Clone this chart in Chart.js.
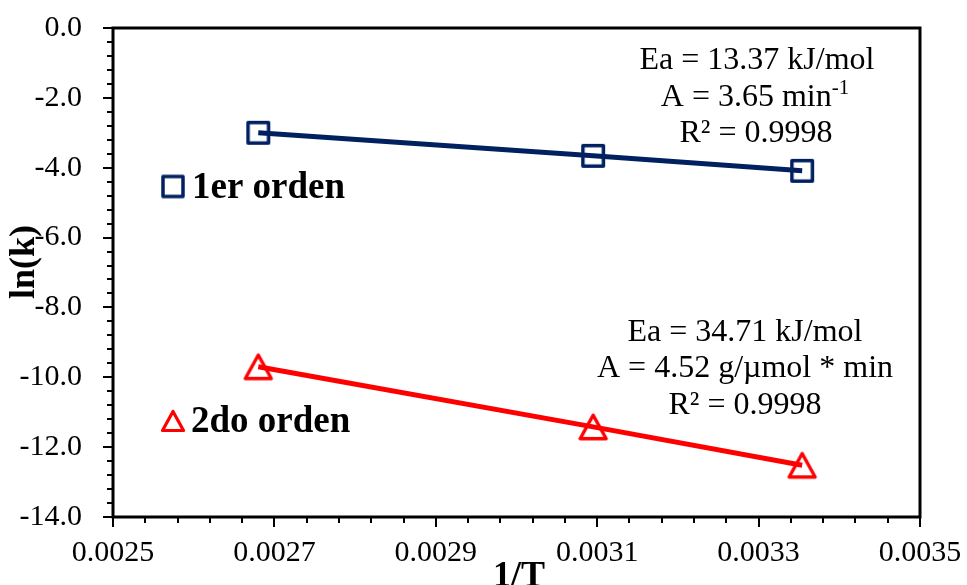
<!DOCTYPE html>
<html>
<head>
<meta charset="utf-8">
<script src="https://cdn.jsdelivr.net/npm/chart.js@4/dist/chart.umd.min.js"></script>
<style>
  html, body { margin: 0; padding: 0; background: #ffffff; }
  #wrap { width: 967px; height: 585px; }
</style>
</head>
<body>
<div id="wrap"><canvas id="c" width="967" height="585"></canvas></div>
<script>
// Arrhenius plot: ln(k) against 1/T for first and second order kinetics
const invT = [0.00268, 0.003095, 0.003354];
const lnKFirst = [-3.00, -3.66, -4.09];
const lnKSecond = [-9.70, -11.42, -12.52];
const seriesNames = ['1er orden', '2do orden'];
const fitFirst = ['Ea = 13.37 kJ/mol', 'A = 3.65 min', 'R\u00B2 = 0.9998'];
const fitSecond = ['Ea = 34.71 kJ/mol', 'A = 4.52 g/\u00B5mol * min', 'R\u00B2 = 0.9998'];
const xTicks = [0.0025, 0.0027, 0.0029, 0.0031, 0.0033, 0.0035];
const yTicks = [0, -2, -4, -6, -8, -10, -12, -14];

const NAVY = '#002060';
const RED = '#ff0000';
const SERIF = '"Liberation Serif", "Times New Roman", serif';

// Outline-only markers, centred on their bounding box
function makeMarker(kind, color, lw, pts) {
  const c = document.createElement('canvas');
  c.width = 32; c.height = 32;
  const g = c.getContext('2d');
  g.strokeStyle = color;
  g.lineWidth = lw;
  g.lineJoin = 'round';
  g.beginPath();
  if (kind === 'square') {
    g.rect(pts[0], pts[0], pts[1], pts[1]);
  } else {
    g.moveTo(pts[0][0], pts[0][1]);
    g.lineTo(pts[1][0], pts[1][1]);
    g.lineTo(pts[2][0], pts[2][1]);
    g.closePath();
  }
  g.stroke();
  return c;
}
const squareMark = makeMarker('square', NAVY, 3.5, [5.75, 20.5]);
const triangleMark = makeMarker('triangle', RED, 3.4, [[16, 4.25], [29, 27.75], [3, 27.75]]);
const squareLegend = makeMarker('square', NAVY, 3.5, [6, 20]);
const triangleLegend = makeMarker('triangle', RED, 3.2, [[16, 6.5], [26.5, 25.5], [5.5, 25.5]]);

// major ticks every `step`, counted from `origin`
const isMajor = (v, step, origin) => {
  const r = (v - origin) / step;
  return Math.abs(r - Math.round(r)) < 1e-6;
};
const xMajor = v => isMajor(v, 0.0002, xTicks[0]);
const yMajor = v => isMajor(v, 2, 0);

// Frame, outward tick marks, axis titles, in-plot legend and fit notes
const decorations = {
  id: 'decorations',
  afterDraw(chart) {
    const { ctx, chartArea: a, scales } = chart;
    ctx.save();
    ctx.strokeStyle = '#000';
    ctx.lineWidth = 3;
    ctx.strokeRect(a.left, a.top, a.right - a.left, a.bottom - a.top);

    ctx.lineWidth = 2;
    ctx.beginPath();
    scales.y.ticks.forEach(t => {
      const py = Math.round(scales.y.getPixelForValue(t.value));
      const len = yMajor(t.value) ? 10 : 6;
      ctx.moveTo(a.left, py);
      ctx.lineTo(a.left - len, py);
    });
    scales.x.ticks.forEach(t => {
      const px = Math.round(scales.x.getPixelForValue(t.value));
      const len = xMajor(t.value) ? 10 : 6;
      ctx.moveTo(px, a.bottom);
      ctx.lineTo(px, a.bottom + len);
    });
    ctx.stroke();

    ctx.fillStyle = '#000';
    // axis titles
    ctx.font = 'bold 36px ' + SERIF;
    ctx.textAlign = 'center';
    ctx.textBaseline = 'alphabetic';
    ctx.fillText('1/T', 519, 586);
    ctx.save();
    ctx.translate(34, 262);
    ctx.rotate(-Math.PI / 2);
    ctx.fillText('ln(k)', 0, 0);
    ctx.restore();

    // legend inside the plot
    ctx.drawImage(squareLegend, 173 - 16, 186.5 - 16);
    ctx.drawImage(triangleLegend, 173 - 16, 421 - 16);
    ctx.font = 'bold 37px ' + SERIF;
    ctx.textAlign = 'left';
    ctx.fillText(seriesNames[0], 192, 198);
    ctx.fillText(seriesNames[1], 191, 432);

    // fit results
    ctx.font = '32px ' + SERIF;
    ctx.textAlign = 'center';
    ctx.fillText(fitFirst[0], 757, 69);
    // line with superscript exponent
    const main = fitFirst[1];
    const sup = '-1';
    const wMain = ctx.measureText(main).width;
    ctx.font = '21px ' + SERIF;
    const wSup = ctx.measureText(sup).width;
    const x0 = 755 - (wMain + wSup) / 2;
    ctx.textAlign = 'left';
    ctx.fillText(sup, x0 + wMain, 94);
    ctx.font = '32px ' + SERIF;
    ctx.fillText(main, x0, 106);
    ctx.textAlign = 'center';
    ctx.fillText(fitFirst[2], 756, 142);

    ctx.fillText(fitSecond[0], 745, 341);
    ctx.fillText(fitSecond[1], 745, 377);
    ctx.fillText(fitSecond[2], 745, 414);
    ctx.restore();
  }
};

const toPoints = (xs, ys) => xs.map((x, i) => ({ x, y: ys[i] }));

new Chart(document.getElementById('c'), {
  type: 'scatter',
  data: {
    datasets: [
      {
        label: seriesNames[0],
        data: toPoints(invT, lnKFirst),
        showLine: true,
        borderColor: NAVY,
        borderWidth: 5,
        backgroundColor: 'rgba(0,0,0,0)',
        pointStyle: squareMark,
        pointRadius: 14,
        tension: 0
      },
      {
        label: seriesNames[1],
        data: toPoints(invT, lnKSecond),
        showLine: true,
        borderColor: RED,
        borderWidth: 5,
        backgroundColor: 'rgba(0,0,0,0)',
        pointStyle: triangleMark,
        pointRadius: 14,
        tension: 0
      }
    ]
  },
  options: {
    responsive: false,
    animation: false,
    events: [],
    layout: { autoPadding: false, padding: { top: 28, right: 47, left: 0, bottom: 0 } },
    plugins: { legend: { display: false }, tooltip: { enabled: false } },
    scales: {
      x: {
        type: 'linear',
        min: xTicks[0],
        max: xTicks[xTicks.length - 1],
        grid: { display: false, drawTicks: false },
        border: { display: false },
        afterFit: s => { s.height = 68; s.paddingLeft = 0; s.paddingRight = 0; },
        ticks: {
          stepSize: 0.00004,
          autoSkip: false,
          maxRotation: 0,
          padding: 18,
          color: '#000',
          font: { family: SERIF, size: 30 },
          callback: v => (xMajor(v) ? v.toFixed(4) : '')
        }
      },
      y: {
        type: 'linear',
        min: yTicks[yTicks.length - 1],
        max: yTicks[0],
        grid: { display: false, drawTicks: false },
        border: { display: false },
        afterFit: s => { s.width = 113; s.paddingTop = 0; s.paddingBottom = 0; },
        ticks: {
          stepSize: 0.4,
          autoSkip: false,
          padding: 31,
          color: '#000',
          font: { family: SERIF, size: 30 },
          callback: v => (yMajor(v) ? (Math.abs(v) < 1e-9 ? 0 : v).toFixed(1) : '')
        }
      }
    }
  },
  plugins: [decorations]
});
</script>
</body>
</html>
